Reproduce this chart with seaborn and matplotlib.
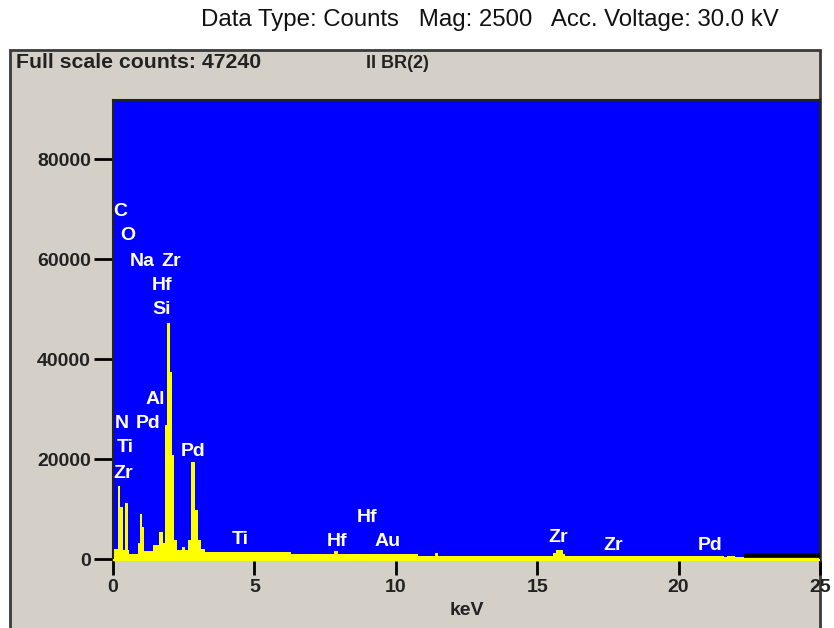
import matplotlib
matplotlib.use("Agg")
import matplotlib.pyplot as plt
from matplotlib.patches import Rectangle
import numpy as np
import seaborn as sns

# Spectrum channels: energy bin edges (keV) and counts in each bin
bin_edges = [0.00, 0.04, 0.18, 0.25, 0.34, 0.44, 0.52, 0.58, 0.90, 0.95, 1.03,
             1.10, 1.43, 1.64, 1.78, 1.84, 1.92, 2.02, 2.09, 2.16, 2.25, 2.43,
             2.55, 2.66, 2.76, 2.90, 3.02, 3.11, 3.25, 6.28, 7.80, 7.95, 10.80,
             11.40, 11.50, 15.55, 15.65, 15.90, 16.00, 21.60, 21.70, 22.00, 22.30, 25.00]
bin_counts = [500, 2000, 14600, 10500, 1800, 11200, 1800, 1100, 3200, 9000,
              6500, 1600, 2800, 5500, 3200, 26800, 47240, 37500, 20800, 3800,
              1800, 2400, 1800, 3800, 19400, 9800, 3800, 2000, 1450, 1050, 1600,
              1050, 700, 1200, 650, 1300, 1900, 1100, 600, 400, 600, 400, 300]

# Element line markers: label, energy (keV), label height (counts)
element_labels = ["C", "O", "Na", "Zr", "Hf", "Si", "Al", "N", "Pd", "Ti", "Zr",
                  "Pd", "Ti", "Hf", "Hf", "Au", "Zr", "Zr", "Pd"]
element_kev = [0.25, 0.53, 1.03, 2.05, 1.73, 1.73, 1.49, 0.32, 1.24, 0.42, 0.35,
               2.83, 4.49, 7.92, 8.98, 9.72, 15.74, 17.68, 21.11]
element_y = [69400, 64600, 59400, 59400, 54600, 49800, 31800, 27000, 27000,
             22200, 17000, 21600, 3800, 3400, 8200, 3400, 4200, 2800, 2800]

y_ticks = [0, 20000, 40000, 60000, 80000]
x_ticks = [0, 5, 10, 15, 20, 25]

sns.set_style("white")
plt.rcParams["font.family"] = ["Liberation Sans", "DejaVu Sans"]

W, H = 834, 628
fig = plt.figure(figsize=(W / 100, H / 100), dpi=100)
fig.patch.set_facecolor("white")

# Grey instrument panel behind the plot
panel = Rectangle((10 / W, -0.02), (820 - 10) / W, (628 - 50) / H + 0.02,
                  transform=fig.transFigure, facecolor="#D4D0C8",
                  edgecolor="#3a3a3a", linewidth=2, zorder=-5)
fig.patches.append(panel)

fig.text(490 / W, 1 - 20 / H,
         "Data Type: Counts   Mag: 2500   Acc. Voltage: 30.0 kV",
         ha="center", va="center", fontsize=17.3, color="#111111")
fig.text(16 / W, 1 - 63 / H, "Full scale counts: 47240", ha="left",
         va="center", fontsize=15.3, fontweight="bold", color="#222222")
fig.text(366 / W, 1 - 63 / H, "II BR(2)", ha="left", va="center",
         fontsize=13, fontweight="bold", color="#222222")

ax = fig.add_axes([113 / W, (628 - 561) / H, 707 / W, 461 / H])
ax.set_zorder(2)
ax.set_facecolor("#0000FF")

centers = [(a + b) / 2 for a, b in zip(bin_edges[:-1], bin_edges[1:])]
sns.histplot(x=centers, weights=bin_counts, bins=bin_edges, element="step",
             fill=True, color="#FFFF00", alpha=1, linewidth=0, ax=ax)
ax.axhspan(-400, 0, color="#FFFF00", lw=0, zorder=3)
ax.fill_between([22.3, 25.0], [400, 400], [1300, 1300], color="black",
                lw=0, zorder=3)

for lab, ex, ey in zip(element_labels, element_kev, element_y):
    ax.text(ex, ey, lab, ha="center", va="center", color="white",
            fontsize=14, fontweight="bold", zorder=5)

ax.set_xlim(0, 25)
ax.set_ylim(-400, 91800)
ax.set_xticks(x_ticks)
ax.set_yticks(y_ticks)
ax.set_xticklabels([str(t) for t in x_ticks])
ax.set_yticklabels([str(t) for t in y_ticks])
ax.tick_params(axis="x", bottom=True, direction="out", length=10, width=2,
               colors="black", labelsize=14, pad=3)
ax.tick_params(axis="y", left=True, direction="out", length=14, width=2,
               colors="black", labelsize=14, pad=2)
for lbl in ax.get_xticklabels() + ax.get_yticklabels():
    lbl.set_fontweight("bold")
    lbl.set_color("#222222")
ax.set_xlabel("keV", fontsize=14, fontweight="bold", color="#222222",
              labelpad=4)
ax.set_ylabel("")
for side in ["top", "right", "left"]:
    ax.spines[side].set_visible(True)
    ax.spines[side].set_color("#222222")
    ax.spines[side].set_linewidth(1.5)
ax.spines["bottom"].set_visible(False)

fig.savefig("out.png", dpi=100)
